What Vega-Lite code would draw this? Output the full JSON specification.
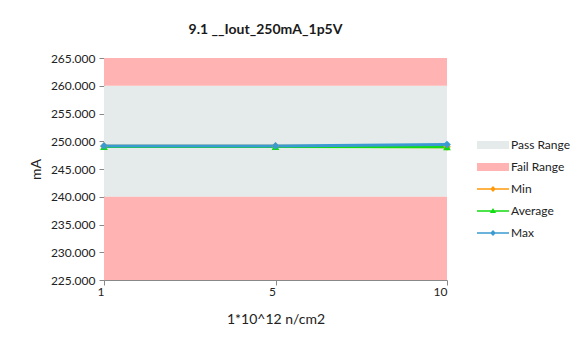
{
  "$schema": "https://vega.github.io/schema/vega-lite/v6.json",
  "width": 343,
  "height": 222,
  "autosize": "none",
  "padding": {"left": 104, "top": 58, "right": 134, "bottom": 65},
  "background": "white",
  "title": {"text": "9.1 __Iout_250mA_1p5V", "fontSize": 14, "fontWeight": "bold", "font": "Lato", "color": "#1a1a1a", "dx": -10, "offset": 15},
  "config": {"view": {"stroke": null}, "font": "Lato", "axisY": {"labelOverlap": false}},
  "datasets": {
    "bands": [
      {"series": "Pass Range", "mA": 240, "hi": 260},
      {"series": "Fail Range", "mA": 260, "hi": 265},
      {"series": "Fail Range", "mA": 225, "hi": 240}
    ],
    "lines": [
      {"x": "1", "series": "Min", "mA": 249.1},
      {"x": "5", "series": "Min", "mA": 249.1},
      {"x": "10", "series": "Min", "mA": 249.0},
      {"x": "1", "series": "Average", "mA": 249.05},
      {"x": "5", "series": "Average", "mA": 249.05},
      {"x": "10", "series": "Average", "mA": 249.0},
      {"x": "1", "series": "Max", "mA": 249.15},
      {"x": "5", "series": "Max", "mA": 249.15},
      {"x": "10", "series": "Max", "mA": 249.4}
    ],
    "legend": [
      {"x": "1", "series": "Pass Range", "mA": 300},
      {"x": "1", "series": "Fail Range", "mA": 300},
      {"x": "1", "series": "Min", "mA": 300},
      {"x": "1", "series": "Average", "mA": 300},
      {"x": "1", "series": "Max", "mA": 300}
    ]
  },
  "encoding": {
    "y": {"field": "mA", "type": "quantitative", "scale": {"domain": [225, 265], "nice": false, "zero": false},
          "axis": {"title": "mA", "values": [225, 230, 235, 240, 245, 250, 255, 260, 265], "format": ".3f", "grid": false, "labelOverlap": false, "labelFontSize": 12, "labelColor": "#222", "titleFontSize": 14, "titleFontWeight": "normal", "titleColor": "#222", "titlePadding": 7, "domainColor": "#888", "tickColor": "#888", "tickSize": 5, "labelPadding": 4}},
    "color": {
      "field": "series", "type": "nominal", "title": null,
      "scale": {"domain": ["Pass Range", "Fail Range", "Min", "Average", "Max"], "range": ["#E5EBEB", "#FFB3B3", "#FF9A0A", "#11DD11", "#3A9BD0"]},
      "legend": {"orient": "none", "legendX": 373, "legendY": 71, "symbolSize": 1024, "rowPadding": -7, "labelFontSize": 12, "labelColor": "#222", "labelOffset": 2, "symbolStrokeWidth": 0, "symbolOpacity": 1, "padding": 0}
    }
  },
  "layer": [
    {
      "data": {"name": "bands"},
      "mark": {"type": "rect"},
      "encoding": {"y2": {"field": "hi"}}
    },
    {
      "data": {"name": "legend"},
      "mark": {"type": "point", "filled": true, "clip": true, "opacity": 1},
      "encoding": {
        "x": {"field": "x", "type": "ordinal"},
        "shape": {"field": "series", "type": "nominal", "title": null,
          "scale": {"domain": ["Pass Range", "Fail Range", "Min", "Average", "Max"],
            "range": ["M-1,-0.25H1V0.25H-1Z", "M-1,-0.25H1V0.25H-1Z",
              "M-1,-0.05H1V0.05H-1Z M0,-0.18L0.18,0L0,0.18L-0.18,0Z",
              "M-1,-0.05H1V0.05H-1Z M0,-0.18L0.19,0.13L-0.19,0.13Z",
              "M-1,-0.05H1V0.05H-1Z M0,-0.18L0.18,0L0,0.18L-0.18,0Z"]}}
      }
    },
    {
      "data": {"name": "lines"},
      "mark": {"type": "line", "strokeWidth": 3},
      "encoding": {
        "x": {"field": "x", "type": "ordinal", "scale": {"type": "point", "padding": 0, "domain": ["1", "5", "10"]},
              "axis": {"title": "1*10^12 n/cm2", "labelAngle": 0, "labelFontSize": 12, "labelColor": "#222", "titleFontSize": 14, "titleFontWeight": "normal", "titleColor": "#222", "titlePadding": 15, "domainColor": "#888", "tickColor": "#888", "tickSize": 5, "labelPadding": 6}}
      }
    },
    {
      "data": {"name": "lines"},
      "transform": [{"filter": "datum.series === 'Min'"}],
      "mark": {"type": "point", "shape": "diamond", "filled": true, "size": 60, "opacity": 1},
      "encoding": {"x": {"field": "x", "type": "ordinal"}}
    },
    {
      "data": {"name": "lines"},
      "transform": [{"filter": "datum.series === 'Average'"}],
      "mark": {"type": "point", "shape": "triangle-up", "filled": true, "size": 60, "opacity": 1},
      "encoding": {"x": {"field": "x", "type": "ordinal"}}
    },
    {
      "data": {"name": "lines"},
      "transform": [{"filter": "datum.series === 'Max'"}],
      "mark": {"type": "point", "shape": "diamond", "filled": true, "size": 60, "opacity": 1},
      "encoding": {"x": {"field": "x", "type": "ordinal"}}
    }
  ]
}
